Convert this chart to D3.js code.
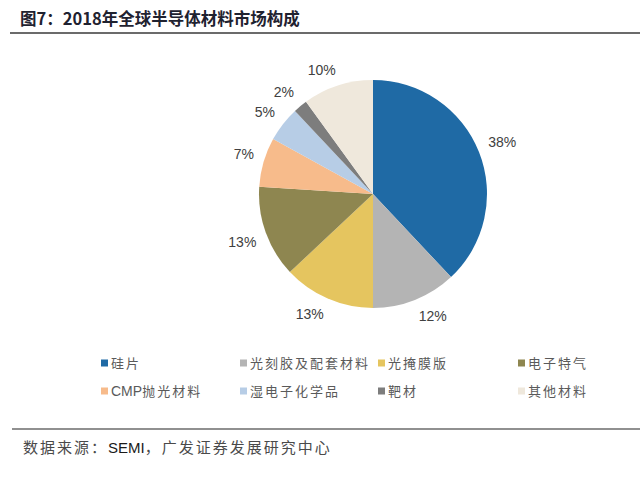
<!DOCTYPE html>
<html>
<head>
<meta charset="utf-8">
<script src="https://cdnjs.cloudflare.com/ajax/libs/d3/7.8.5/d3.min.js"></script>
<style>
  body { margin: 0; background: #fff; }
  svg { display: block; }
  .title { font-family: "Noto Sans CJK SC", sans-serif; font-weight: 700; font-size: 16.5px; fill: #1f2230; }
  .pct { font-family: "Liberation Sans", Arial, sans-serif; font-size: 14px; fill: #404040; }
  .legend text { font-family: "Noto Sans CJK SC", sans-serif; font-size: 13px; fill: #5a5a5a; letter-spacing: 2px; }
  .source { font-family: "Noto Sans CJK SC", sans-serif; font-size: 15px; fill: #4a4a4a; letter-spacing: 2px; }
</style>
</head>
<body>
<svg id="chart" width="640" height="482"></svg>
<script>
// 2018 global semiconductor materials market composition (SEMI)
var categories = ["硅片", "光刻胶及配套材料", "光掩膜版", "电子特气", "CMP抛光材料", "湿电子化学品", "靶材", "其他材料"];
var shares = [38, 12, 13, 13, 7, 5, 2, 10];
var colors = ["#1f6aa5", "#b4b4b4", "#e5c55f", "#8e8650", "#f7bb8b", "#b7cde6", "#7d7d7d", "#efe8dc"];

var svg = d3.select("#chart"),
    width = 640,
    cx = 373, cy = 194,
    radius = 114,
    labelGap = 10;

var data = categories.map(function (c, i) { return { name: c, value: shares[i], color: colors[i] }; });

// title + rule
svg.append("text")
    .attr("class", "title")
    .attr("x", 20)
    .attr("y", 25)
    .text("图7：2018年全球半导体材料市场构成");

svg.append("line")
    .attr("x1", 10).attr("x2", width)
    .attr("y1", 33).attr("y2", 33)
    .attr("stroke", "#3a3a3a")
    .attr("stroke-width", 1.6);

// pie
var pie = d3.pie().sort(null).value(function (d) { return d.value; });
var arc = d3.arc().innerRadius(0).outerRadius(radius);
var arcs = pie(data);

var g = svg.append("g").attr("transform", "translate(" + cx + "," + cy + ")");

g.selectAll("path.slice")
    .data(arcs)
    .enter()
    .append("path")
    .attr("class", "slice")
    .attr("d", arc)
    .attr("fill", function (d) { return d.data.color; });

// labels outside end, nearest corner of the text box sits on the gap ring
g.selectAll("text.pct")
    .data(arcs)
    .enter()
    .append("text")
    .attr("class", "pct")
    .attr("text-anchor", "middle")
    .attr("dy", "0.35em")
    .text(function (d) { return d.data.value + "%"; })
    .each(function (d) {
        var bb = this.getBBox(),
            a = (d.startAngle + d.endAngle) / 2,
            ux = Math.sin(a), uy = -Math.cos(a),
            clamp = function (v) { return Math.max(-1, Math.min(1, v * 3)); },
            r = radius + labelGap;
        d3.select(this)
            .attr("x", ux * r + clamp(ux) * bb.width / 2)
            .attr("y", uy * r + clamp(uy) * bb.height / 2 * 0.8);
    });

// legend: 4 columns x 2 rows
var legendCols = [101, 240, 378, 518],
    legendRows = [363, 391],
    box = 7;

var item = svg.append("g")
    .attr("class", "legend")
    .selectAll("g")
    .data(data)
    .enter()
    .append("g")
    .attr("transform", function (d, i) {
        return "translate(" + legendCols[i % 4] + "," + legendRows[Math.floor(i / 4)] + ")";
    });

item.append("rect")
    .attr("x", 0)
    .attr("y", -box / 2)
    .attr("width", box)
    .attr("height", box)
    .attr("fill", function (d) { return d.color; });

item.append("text")
    .attr("x", box + 3)
    .attr("dy", "0.36em")
    .each(function (d) {
        var t = d3.select(this),
            m = d.name.match(/^([A-Za-z]+)(.*)$/);
        if (m) {
            t.append("tspan").style("font-family", "'Liberation Sans', Arial, sans-serif").style("letter-spacing", "0px").style("font-size", "14px").text(m[1]);
            t.append("tspan").text(m[2]);
        } else {
            t.text(d.name);
        }
    });

// source rule + note
svg.append("line")
    .attr("x1", 12).attr("x2", width)
    .attr("y1", 429).attr("y2", 429)
    .attr("stroke", "#6b6b6b")
    .attr("stroke-width", 1.6);

var src = svg.append("text")
    .attr("class", "source")
    .attr("x", 23)
    .attr("y", 453);
src.append("tspan").text("数据来源：");
src.append("tspan")
    .style("font-family", "'Liberation Sans', Arial, sans-serif")
    .style("letter-spacing", "0px")
    .style("fill", "#1a1a1a")
    .text("SEMI");
src.append("tspan").text("，广发证券发展研究中心");
</script>
</body>
</html>
